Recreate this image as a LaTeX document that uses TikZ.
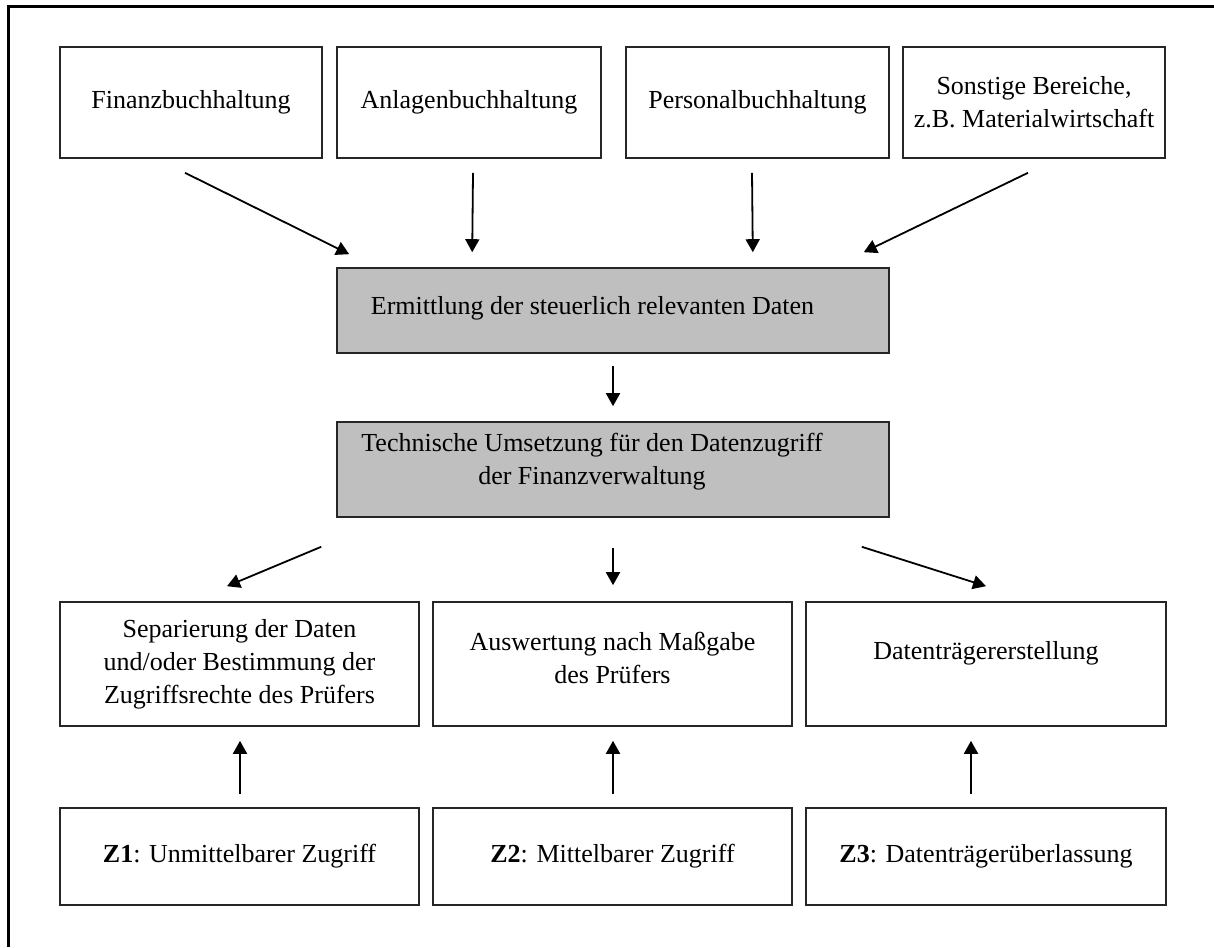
\documentclass[tikz,border=0pt]{standalone}
\usepackage{fontspec}
\setmainfont{Liberation Serif}
\usetikzlibrary{arrows.meta}
\begin{document}
\begin{tikzpicture}[x=0.5pt,y=-0.5pt,
  box/.style={draw=black!85, line width=0.8pt, inner sep=0pt, align=center,
    font=\fontsize{13}{16.5}\selectfont},
  topbox/.style={box, minimum height=55.5pt},
  graybox/.style={box, fill=gray!50!white, minimum width=276pt},
  midbox/.style={box, minimum height=62pt},
  zbox/.style={box, minimum height=48.5pt},
  txt/.style={inner sep=0pt, align=center, font=\fontsize{13}{16.5}\selectfont},
  arr/.style={line width=0.9pt, -{Triangle[length=6.5pt,width=7pt]}}]
\useasboundingbox (0,0) rectangle (1214,947);
\fill[white] (0,0) rectangle (1214,947);
% frame (left and top only)
\coordinate (fl) at (8,947);
\coordinate (ftl) at (8,7);
\coordinate (ftr) at (1214,7);
\draw[line width=1.5pt] (fl) -- (ftl) -- (ftr);
% top row
\node[topbox, minimum width=131pt] (f) at (191,102.5) {Finanzbuchhaltung};
\node[topbox, minimum width=132pt] (a) at (469,102.5) {Anlagenbuchhaltung};
\node[topbox, minimum width=131.5pt] (p) at (757.5,102.5) {Personalbuchhaltung};
\node[topbox, minimum width=131pt] (s) at (1034,102.5) {Sonstige Bereiche,\\z.B. Materialwirtschaft};
% gray boxes
\node[graybox, minimum height=42.5pt] (g1) at (613,310.5) {};
\node[txt] (g1t) at (592.5,308) {Ermittlung der steuerlich relevanten Daten};
\node[graybox, minimum height=47.5pt] (g2) at (613,469.5) {};
\node[txt] (g2t) at (592,462) {Technische Umsetzung für den Datenzugriff\\der Finanzverwaltung};
% middle row
\node[midbox, minimum width=179.5pt] (sep) at (239.5,664) {Separierung der Daten\\und/oder Bestimmung der\\Zugriffsrechte des Prüfers};
\node[midbox, minimum width=179.5pt] (ausw) at (612.5,664) {};
\node[txt] (auswt) at (612.5,658) {Auswertung nach Maßgabe\\des Prüfers};
\node[midbox, minimum width=180pt] (dat) at (986,664) {};
\node[txt] (datt) at (986,653) {Datenträgererstellung};
% z row
\node[zbox, minimum width=179.5pt] (z1) at (239.5,856.5) {\textbf{Z1}: Unmittelbarer Zugriff};
\node[zbox, minimum width=179.5pt] (z2) at (612.5,856.5) {\textbf{Z2}: Mittelbarer Zugriff};
\node[zbox, minimum width=180pt] (z3) at (986,856.5) {\textbf{Z3}: Datenträgerüberlassung};
% arrows top
\draw[arr] ([shift={(-6,14)}]f.south) -- ([shift={(13,-13)}]g1.north west);
\draw[arr] ([shift={(4,14)}]a.south) -- ([shift={(136,-15)}]g1.north west);
\draw[arr] ([shift={(-5.5,14)}]p.south) -- ([shift={(-137,-15)}]g1.north east);
\draw[arr] ([shift={(-6,14)}]s.south) -- ([shift={(-26,-15)}]g1.north east);
\draw[arr] ([shift={(0,12)}]g1.south) -- ([shift={(0,-15)}]g2.north);
% arrows to middle row
\draw[arr] ([shift={(-15,29)}]g2.south west) -- ([shift={(-12.5,-15)}]sep.north);
\draw[arr] ([shift={(0,30)}]g2.south) -- ([shift={(0.5,-16)}]ausw.north);
\draw[arr] ([shift={(-28,29)}]g2.south east) -- ([shift={(0,-15)}]dat.north);
% up arrows
\draw[arr] ([shift={(0.5,-13)}]z1.north) -- ([shift={(0.5,14)}]sep.south);
\draw[arr] ([shift={(0.5,-13)}]z2.north) -- ([shift={(0.5,14)}]ausw.south);
\draw[arr] ([shift={(-15,-13)}]z3.north) -- ([shift={(-15,14)}]dat.south);
\end{tikzpicture}
\end{document}
